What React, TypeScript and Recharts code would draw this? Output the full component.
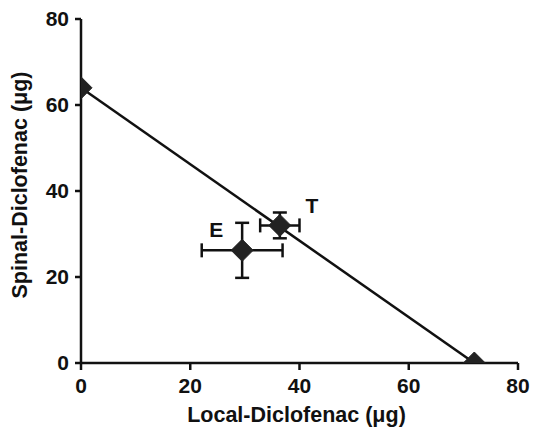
import React from 'react';
import { ComposedChart, Scatter, XAxis, YAxis, ErrorBar } from 'recharts';

const xTicks = [0, 20, 40, 60, 80];
const yTicks = [0, 20, 40, 60, 80];

// Isobole line endpoints (local alone, spinal alone)
const isoboleLocal = [0, 72];
const isoboleSpinal = [64, 0];

// Experimental points
const expLabels = ['T', 'E'];
const expLocal = [36.4, 29.5];
const expSpinal = [32, 26.2];
const expLocalErr = [3.6, 7.4];
const expSpinalErr = [3.0, 6.4];

const isoboleData = isoboleLocal.map((x, i) => ({ x, y: isoboleSpinal[i] }));
const expData = expLabels.map((label, i) => ({
  label,
  x: expLocal[i],
  y: expSpinal[i],
  ex: expLocalErr[i],
  ey: expSpinalErr[i],
}));

const FONT = '"Liberation Sans", Arial, Helvetica, sans-serif';

const labelOffsets: Record<string, [number, number]> = {
  T: [32, -20],
  E: [-26, -21],
};

const Diamond = (props: any) => {
  const { cx, cy, payload } = props;
  if (cx == null || cy == null) return null;
  const r = 11;
  const off = payload && payload.label ? labelOffsets[payload.label] : null;
  return (
    <g>
      <polygon
        points={`${cx},${cy - r} ${cx + r},${cy} ${cx},${cy + r} ${cx - r},${cy}`}
        fill="#222"
        stroke="#222"
        strokeWidth={1}
      />
      {off && (
        <text
          x={cx + off[0]}
          y={cy + off[1]}
          textAnchor="middle"
          dominantBaseline="central"
          fontFamily={FONT}
          fontWeight="bold"
          fontSize={21}
          fill="#111"
        >
          {payload.label}
        </text>
      )}
    </g>
  );
};

const NoShape = () => null;

const YLabel = (props: any) => {
  const vb = props.viewBox || {};
  const cx = 20;
  const cy = vb.y + vb.height / 2 - 6;
  return (
    <text
      x={cx}
      y={cy}
      transform={`rotate(-90, ${cx}, ${cy})`}
      textAnchor="middle"
      dominantBaseline="central"
      fontFamily={FONT}
      fontWeight="bold"
      fontSize={21.5}
      fill="#111"
    >
      Spinal-Diclofenac (μg)
    </text>
  );
};

const XLabel = (props: any) => {
  const vb = props.viewBox || {};
  const cx = vb.x + vb.width / 2 - 3;
  const cy = 415;
  return (
    <text
      x={cx}
      y={cy}
      textAnchor="middle"
      dominantBaseline="central"
      fontFamily={FONT}
      fontWeight="bold"
      fontSize={21.5}
      fill="#111"
    >
      Local-Diclofenac (μg)
    </text>
  );
};

const tickStyle = { fontFamily: FONT, fontWeight: 'bold', fontSize: 21, fill: '#111' } as any;

export default function App() {
  return (
    <div style={{ position: 'absolute', left: 0, top: 0, width: 534, height: 435, background: '#fff' }}>
      <ComposedChart
        width={534}
        height={435}
        margin={{ top: 19, right: 16, bottom: 0, left: 0 }}
      >
        <XAxis
          type="number"
          dataKey="x"
          domain={[0, 80]}
          ticks={xTicks}
          interval={0}
          allowDataOverflow
          height={72}
          tickSize={7}
          tickMargin={8}
          axisLine={{ stroke: '#111', strokeWidth: 2.5 }}
          tickLine={{ stroke: '#111', strokeWidth: 2.5 }}
          tick={tickStyle}
          label={<XLabel />}
        />
        <YAxis
          type="number"
          dataKey="y"
          domain={[0, 80]}
          ticks={yTicks}
          interval={0}
          allowDataOverflow
          width={81}
          tickSize={6}
          tickMargin={6}
          axisLine={{ stroke: '#111', strokeWidth: 2.5 }}
          tickLine={{ stroke: '#111', strokeWidth: 2.5 }}
          tick={tickStyle}
          label={<YLabel />}
        />
        <Scatter
          data={isoboleData}
          line={{ stroke: '#111', strokeWidth: 2.5 }}
          shape={<NoShape />}
          isAnimationActive={false}
        />
        <Scatter data={isoboleData} shape={<Diamond />} isAnimationActive={false} />
        <Scatter data={expData} shape={<Diamond />} isAnimationActive={false}>
          <ErrorBar dataKey="ex" direction="x" width={7} stroke="#111" strokeWidth={2.5} />
          <ErrorBar dataKey="ey" direction="y" width={7} stroke="#111" strokeWidth={2.5} />
        </Scatter>
      </ComposedChart>
    </div>
  );
}
